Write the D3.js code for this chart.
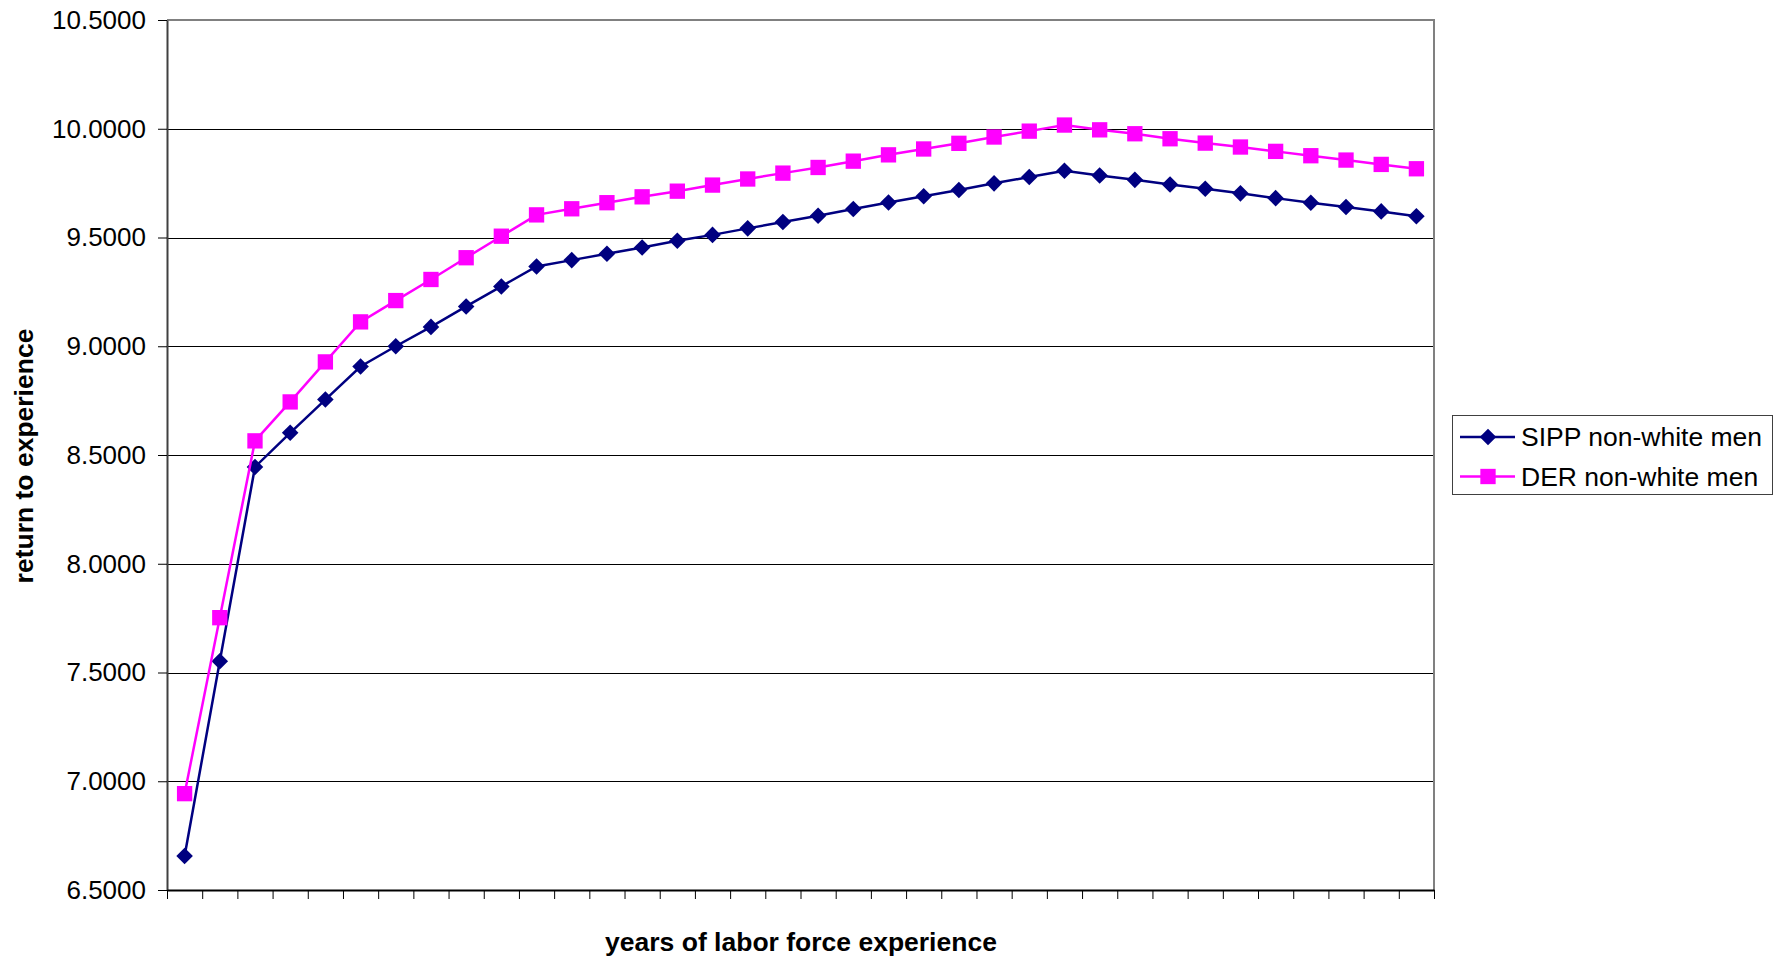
<!DOCTYPE html>
<html>
<head>
<meta charset="utf-8">
<script src="https://cdn.jsdelivr.net/npm/d3@7"></script>
<style>
  html, body { margin: 0; padding: 0; background: #fff; }
  svg { display: block; font-family: "Liberation Sans", Arial, sans-serif; }
</style>
</head>
<body>
<svg id="chart" width="1782" height="958"></svg>
<script>
// Years of labor force experience (one category per year)
const years = [1, 2, 3, 4, 5, 6, 7, 8, 9, 10, 11, 12, 13, 14, 15, 16, 17, 18,
               19, 20, 21, 22, 23, 24, 25, 26, 27, 28, 29, 30, 31, 32, 33, 34, 35, 36];

// Return to experience, SIPP non-white men
const sippValues = [6.656, 7.552, 8.445, 8.602, 8.755, 8.907, 9.000, 9.089, 9.183, 9.275,
                    9.367, 9.396, 9.425, 9.454, 9.485, 9.512, 9.542, 9.571, 9.600, 9.631,
                    9.661, 9.690, 9.718, 9.749, 9.778, 9.807, 9.785, 9.765, 9.744, 9.724,
                    9.703, 9.681, 9.660, 9.640, 9.620, 9.598];

// Return to experience, DER non-white men
const derValues = [6.943, 7.752, 8.565, 8.744, 8.928, 9.112, 9.210, 9.307, 9.407, 9.506,
                   9.604, 9.632, 9.660, 9.687, 9.713, 9.741, 9.769, 9.796, 9.822, 9.851,
                   9.880, 9.907, 9.933, 9.962, 9.989, 10.017, 9.995, 9.977, 9.954, 9.934,
                   9.916, 9.896, 9.876, 9.856, 9.836, 9.816];

const yTicks = [6.5, 7.0, 7.5, 8.0, 8.5, 9.0, 9.5, 10.0, 10.5];
const seriesNames = ["SIPP non-white men", "DER non-white men"];
const seriesColors = ["#000080", "#FF00FF"];

const svg = d3.select("#chart");

const plot = { left: 167, right: 1434, top: 20, bottom: 890 };

const x = d3.scaleLinear().domain([0, years.length]).range([plot.left, plot.right]);
const y = d3.scaleLinear().domain([6.5, 10.5]).range([plot.bottom, plot.top]);
const xPos = i => x(i + 0.5);

// Horizontal gridlines
svg.append("g")
  .selectAll("line")
  .data(yTicks.slice(1, -1))
  .join("line")
  .attr("x1", plot.left).attr("x2", plot.right)
  .attr("y1", d => Math.round(y(d)) + 0.5).attr("y2", d => Math.round(y(d)) + 0.5)
  .attr("stroke", "#000").attr("stroke-width", 1);

// Plot area border (top and right)
svg.append("path")
  .attr("d", `M${plot.left},${plot.top}H${plot.right}V${plot.bottom}`)
  .attr("fill", "none").attr("stroke", "#808080").attr("stroke-width", 2);

// Y axis
const yAxis = svg.append("g")
  .attr("transform", `translate(${plot.left},0)`)
  .call(d3.axisLeft(y).tickValues(yTicks).tickFormat(d3.format(".4f")).tickSize(9).tickSizeOuter(0).tickPadding(12));
yAxis.select(".domain").attr("stroke", "#404040").attr("stroke-width", 2);
yAxis.selectAll(".tick line").attr("stroke", "#000");
yAxis.selectAll("text")
  .attr("font-size", 26).attr("fill", "#000")
  .attr("font-family", "Liberation Sans, Arial, sans-serif");

// X axis: tick marks at category boundaries, no labels
const xAxis = svg.append("g")
  .attr("transform", `translate(0,${plot.bottom})`)
  .call(d3.axisBottom(x).tickValues(d3.range(0, years.length + 1)).tickFormat("").tickSize(9).tickSizeOuter(0));
xAxis.select(".domain").attr("stroke", "#000").attr("stroke-width", 2);
xAxis.selectAll(".tick line").attr("stroke", "#000");

// Axis titles
svg.append("text")
  .attr("x", 801).attr("y", 951)
  .attr("text-anchor", "middle")
  .attr("font-size", 26.5).attr("font-weight", "bold")
  .text("years of labor force experience");

svg.append("text")
  .attr("transform", "translate(33,456) rotate(-90)")
  .attr("text-anchor", "middle")
  .attr("font-size", 26.5).attr("font-weight", "bold")
  .text("return to experience");

// Series lines and markers
const line = d3.line().x((d, i) => xPos(i)).y(d => y(d));
const diamond = d3.symbol().type(d3.symbolDiamond2).size(175);
const square = d3.symbol().type(d3.symbolSquare).size(235);

const series = [
  { name: seriesNames[0], values: sippValues, color: seriesColors[0], marker: diamond },
  { name: seriesNames[1], values: derValues, color: seriesColors[1], marker: square }
];

series.forEach(s => {
  svg.append("path")
    .datum(s.values)
    .attr("d", line)
    .attr("fill", "none")
    .attr("stroke", s.color)
    .attr("stroke-width", 2.5);
  svg.append("g")
    .selectAll("path")
    .data(s.values)
    .join("path")
    .attr("transform", (d, i) => `translate(${xPos(i)},${y(d)})`)
    .attr("d", s.marker)
    .attr("fill", s.color);
});

// Legend
const legend = svg.append("g");
legend.append("rect")
  .attr("x", 1452.5).attr("y", 415.5)
  .attr("width", 320).attr("height", 79)
  .attr("fill", "#fff").attr("stroke", "#404040").attr("stroke-width", 1);

series.forEach((s, i) => {
  const cy = 437 + i * 39.5;
  legend.append("line")
    .attr("x1", 1460).attr("x2", 1515)
    .attr("y1", cy).attr("y2", cy)
    .attr("stroke", s.color).attr("stroke-width", 2.5);
  legend.append("path")
    .attr("transform", `translate(1488,${cy})`)
    .attr("d", s.marker)
    .attr("fill", s.color);
  legend.append("text")
    .attr("x", 1521).attr("y", cy + 9)
    .attr("font-size", 26.5)
    .attr("fill", "#000")
    .text(s.name);
});
</script>
</body>
</html>
